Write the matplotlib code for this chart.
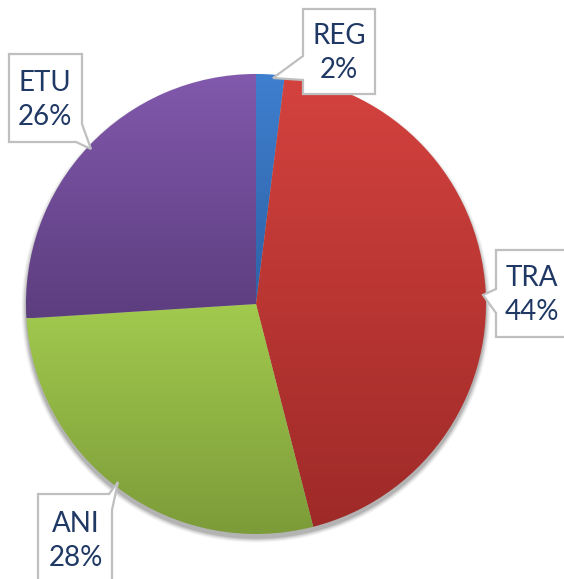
import numpy as np
import matplotlib
matplotlib.use("Agg")
import matplotlib.pyplot as plt
from matplotlib.patches import Polygon, Circle
from matplotlib.colors import LinearSegmentedColormap

# ---- data ----
categories = ["REG", "TRA", "ANI", "ETU"]
values = [2, 44, 28, 26]

# ---- styles ----
top_colors = ["#3F7FCF", "#D4423E", "#A2CA4E", "#8259AD"]
bot_colors = ["#2E62A6", "#9E2A28", "#7C9B39", "#5C3D7E"]
text_color = "#1F3864"
box_edge = "#BFBFBF"

W, H = 564, 579
fig = plt.figure(figsize=(W / 100, H / 100), dpi=100)
ax = fig.add_axes([0, 0, 1, 1])

cx, cy_img, R = 256, 304, 230
cy = H - cy_img

# soft shadow
for k, a in zip(range(8, 0, -1), [0.02, 0.025, 0.03, 0.035, 0.04, 0.05, 0.06, 0.07]):
    ax.add_patch(Circle((cx, cy - 4), R + k * 0.6, facecolor="black", alpha=a,
                        edgecolor="none", zorder=0))

wedges, _ = ax.pie(values, center=(cx, cy), radius=R, startangle=90,
                   counterclock=False, frame=True,
                   wedgeprops=dict(linewidth=0))

for w, c0, c1 in zip(wedges, top_colors, bot_colors):
    w.set_facecolor("none")
    path = w.get_path()
    verts = w.get_transform().transform(path.vertices)
    verts = ax.transData.inverted().transform(verts)
    x0, x1 = verts[:, 0].min(), verts[:, 0].max()
    y0, y1 = verts[:, 1].min(), verts[:, 1].max()
    cmap = LinearSegmentedColormap.from_list("g", [c1, c0])
    grad = np.linspace(0, 1, 256).reshape(-1, 1)
    im = ax.imshow(grad, cmap=cmap, extent=(x0, x1, y0, y1), origin="lower",
                   aspect="auto", zorder=1, interpolation="bilinear")
    im.set_clip_path(w)

ax.set_xlim(0, W)
ax.set_ylim(0, H)
ax.set_aspect("auto")
ax.axis("off")


def yy(pts):
    return [(x, H - y) for x, y in pts]

# callout boxes (image pixel coords)
boxes = {
    "REG": [(303, 9), (375, 9), (375, 94), (303, 94), (303, 80), (273, 78), (303, 56)],
    "ETU": [(9, 54), (82, 54), (82, 124), (91, 149), (76, 142), (9, 142)],
    "TRA": [(496, 250), (600, 250), (600, 337), (496, 337), (496, 313), (483, 295), (496, 289)],
    "ANI": [(38, 494), (109, 494), (118, 482), (112, 510), (112, 620), (38, 620)],
}
text_pos = {"REG": (339, 53), "ETU": (45, 100), "TRA": (532, 295), "ANI": (76, 541)}

for cat, v in zip(categories, values):
    ax.add_patch(Polygon(yy(boxes[cat]), closed=True, facecolor="white",
                         edgecolor=box_edge, linewidth=1.6, zorder=3, clip_on=False))
    tx, ty = text_pos[cat]
    ax.text(tx, H - ty, f"{cat}\n{v}%", ha="center", va="center", color=text_color,
            fontsize=20, family="Lato", linespacing=1.35, zorder=4)

fig.savefig("out.png", dpi=100)
